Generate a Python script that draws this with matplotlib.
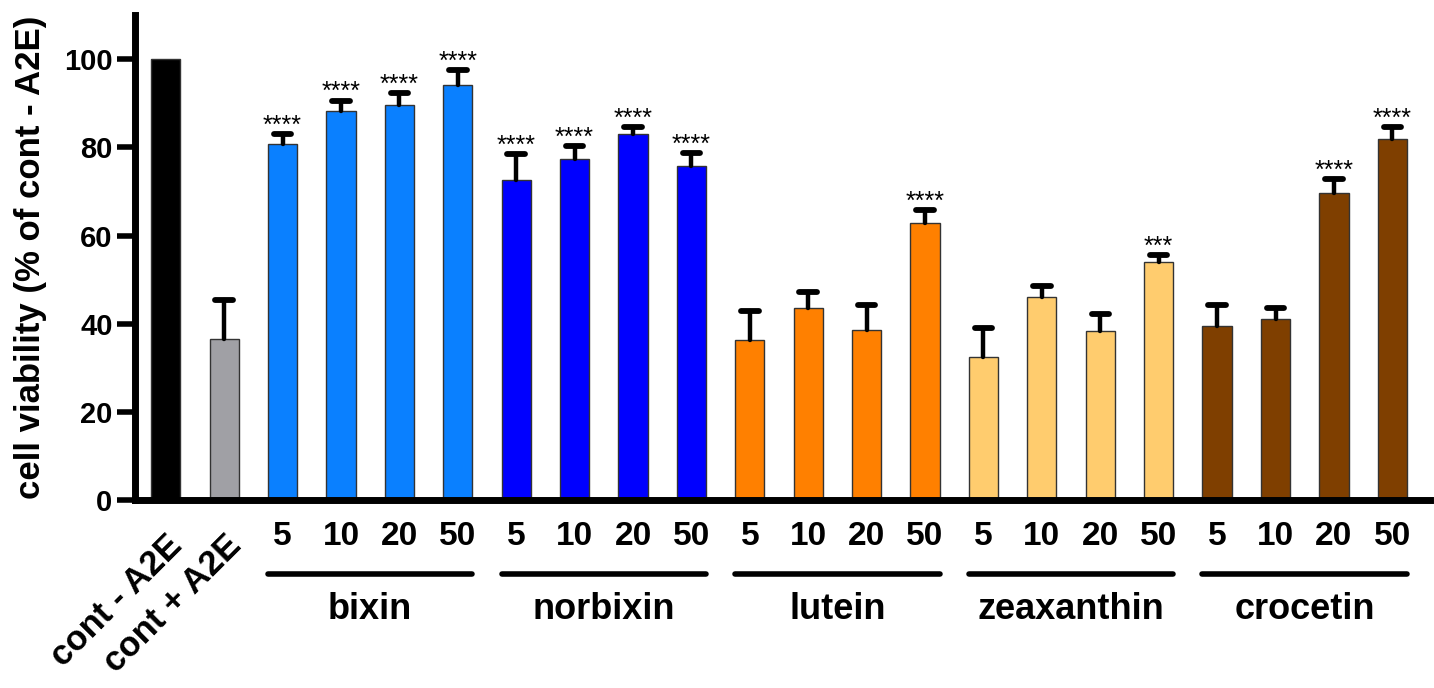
import matplotlib
matplotlib.use("Agg")
import matplotlib.pyplot as plt
from matplotlib.transforms import blended_transform_factory

plt.rcParams['font.family'] = ['Liberation Sans', 'DejaVu Sans']

# ---- data ----
controls = ["cont - A2E", "cont + A2E"]
control_values = [100.0, 36.5]
control_errors = [0.0, 8.9]
control_colors = ["#000000", "#A0A0A5"]

groups = ["bixin", "norbixin", "lutein", "zeaxanthin", "crocetin"]
concentrations = ["5", "10", "20", "50"]
group_colors = ["#0A80FF", "#0000FF", "#FF8000", "#FFCC6E", "#7F3F00"]

bixin_values = [80.8, 88.2, 89.6, 94.1]
bixin_errors = [2.2, 2.4, 2.7, 3.4]
norbixin_values = [72.6, 77.3, 83.1, 75.8]
norbixin_errors = [5.9, 3.0, 1.5, 3.0]
lutein_values = [36.3, 43.5, 38.6, 62.8]
lutein_errors = [6.6, 3.8, 5.6, 3.0]
zeaxanthin_values = [32.4, 46.0, 38.3, 54.0]
zeaxanthin_errors = [6.6, 2.5, 3.9, 1.6]
crocetin_values = [39.4, 41.0, 69.7, 81.8]
crocetin_errors = [4.8, 2.6, 3.1, 2.8]

bixin_stars = ["****", "****", "****", "****"]
norbixin_stars = ["****", "****", "****", "****"]
lutein_stars = ["", "", "", "****"]
zeaxanthin_stars = ["", "", "", "***"]
crocetin_stars = ["", "", "****", "****"]

group_values = [bixin_values, norbixin_values, lutein_values, zeaxanthin_values, crocetin_values]
group_errors = [bixin_errors, norbixin_errors, lutein_errors, zeaxanthin_errors, crocetin_errors]
group_stars = [bixin_stars, norbixin_stars, lutein_stars, zeaxanthin_stars, crocetin_stars]

# ---- figure ----
fig = plt.figure(figsize=(14.34, 6.88), dpi=100)
ax = fig.add_axes([0.094, 0.273, 0.903, 0.705])

values = list(control_values)
errors = list(control_errors)
colors = list(control_colors)
stars = ["", ""]
for v, e, c, s in zip(group_values, group_errors, group_colors, group_stars):
    values += v
    errors += e
    colors += [c] * len(v)
    stars += s
xs = list(range(len(values)))

bar_w = 0.5
cap_half = 0.15
ax.bar(xs, values, width=bar_w, color=colors, edgecolor="#333333", linewidth=1.0, zorder=2)
ex = [x for x, e in zip(xs, errors) if e > 0]
ev = [v for v, e in zip(values, errors) if e > 0]
et = [v + e for v, e in zip(values, errors) if e > 0]
stems = ax.vlines(ex, ev, et, color='black', linewidth=3.2, zorder=3)
stems.set_capstyle('round')
caps = ax.hlines(et, [x - cap_half for x in ex], [x + cap_half for x in ex],
                 color='black', linewidth=4.2, zorder=3)
caps.set_capstyle('round')

for x, v, e, s in zip(xs, values, errors, stars):
    if s:
        ax.text(x, v + e + 0.3, s, ha='center', va='baseline', fontsize=18, color='black')

ax.set_xlim(-0.53, 21.64)
ax.set_ylim(0, 110)
ax.set_yticks([0, 20, 40, 60, 80, 100])
ax.set_yticklabels(["0", "20", "40", "60", "80", "100"], fontsize=21, fontweight='bold')
ax.tick_params(axis='y', length=13, width=4, pad=3)
ax.set_xticks([])
for side in ["top", "right"]:
    ax.spines[side].set_visible(False)
for side in ["left", "bottom"]:
    ax.spines[side].set_linewidth(5)
ax.set_ylabel("cell viability (% of cont - A2E)", fontsize=25, fontweight='bold')
ax.yaxis.set_label_coords(-0.068, 0.5)

trans = blended_transform_factory(ax.transData, ax.transAxes)
# control labels (rotated)
for x, lab in zip([0, 1], controls):
    ax.text(x + 0.2, -0.083, lab, transform=trans, rotation=45, ha='right', va='center',
            fontsize=25, fontweight='bold', rotation_mode='anchor')
# concentrations and group labels
for gi, g in enumerate(groups):
    start = 2 + gi * 4
    for ci, conc in enumerate(concentrations):
        ax.text(start + ci, -0.074, conc, transform=trans, ha='center', va='center',
                fontsize=24, fontweight='bold')
    ax.plot([start - 0.25, start + 3.25], [-0.153, -0.153], transform=trans, color='black',
            linewidth=4, solid_capstyle='round', clip_on=False)
    ax.text(start + 1.5, -0.225, g, transform=trans, ha='center', va='center',
            fontsize=26, fontweight='bold')

fig.savefig("out.png", dpi=100)
